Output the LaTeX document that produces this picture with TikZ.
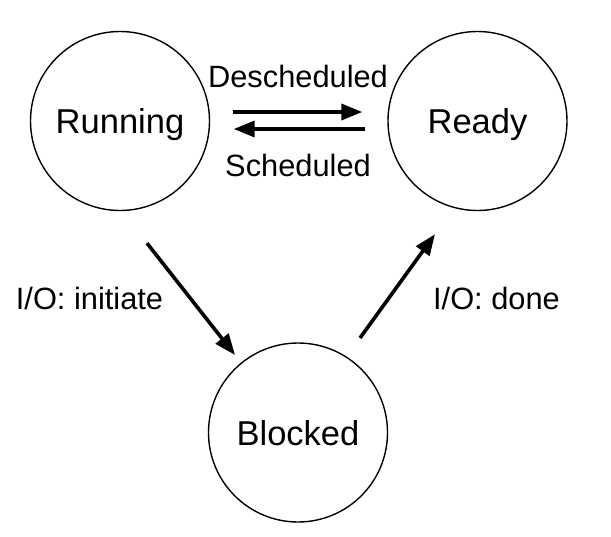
\documentclass[tikz,border=0pt]{standalone}
\usepackage{fontspec}
\setmainfont{Liberation Sans}
\usetikzlibrary{arrows.meta}
\begin{document}
\begin{tikzpicture}[x=1pt,y=-1pt,
  state/.style={circle,draw,line width=1.4pt,minimum size=179pt,inner sep=0pt,text depth=0pt,font=\fontsize{34.5}{40}\selectfont},
  arr/.style={line width=3.6pt,-{Triangle[length=21pt,width=16pt]}},
  lbl/.style={inner sep=0pt,text depth=0pt,font=\fontsize{30.8}{36}\selectfont}]
\useasboundingbox (0,0) rectangle (611,536);
\node[state] (run) at (120,121) {Running};
\node[state] (rdy) at (477.5,121) {Ready};
\node[state] (blk) at (298,432.5) {Blocked};
\draw[arr,shorten <=22.5pt,shorten >=25pt] ([yshift=9pt]run.east) -- ([yshift=9pt]rdy.west);
\draw[arr,shorten <=22pt,shorten >=23.5pt] ([yshift=-8pt]rdy.west) -- ([yshift=-8pt]run.east);
\draw[arr] ([xshift=27pt,yshift=-32pt]run.south) -- ([xshift=-63pt,yshift=77.5pt]blk.center);
\draw[arr] ([xshift=62pt,yshift=94.5pt]blk.center) -- ([xshift=-42.5pt,yshift=-23pt]rdy.south);
\node[lbl] (ldes) at (298,76.5) {Descheduled};
\node[lbl] (lsch) at (298,165) {Scheduled};
\node[lbl] (lini) at (89.5,298.5) {I/O: initiate};
\node[lbl] (ldon) at (496.5,298.5) {I/O: done};
\end{tikzpicture}
\end{document}
